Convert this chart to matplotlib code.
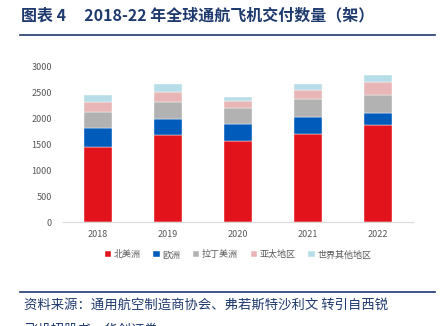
import matplotlib.pyplot as plt
import numpy as np
from matplotlib.lines import Line2D

plt.rcParams['font.family'] = ['Noto Sans CJK SC', 'DejaVu Sans']

years = ['2018', '2019', '2020', '2021', '2022']
regions = ['北美洲', '欧洲', '拉丁美洲', '亚太地区', '世界其他地区']
north_america = [1445, 1671, 1555, 1703, 1858]
europe = [366, 314, 341, 314, 242]
latin_america = [309, 327, 301, 353, 347]
asia_pacific = [192, 193, 135, 168, 245]
other = [129, 154, 71, 110, 129]
colors = ['#e3131b', '#005bbb', '#b2b2b2', '#e8b6b6', '#b7dde8']

fig = plt.figure(figsize=(4.42, 3.26), dpi=100)

# title and rules
fig.text(0.048, 0.952, '图表 4     2018-22 年全球通航飞机交付数量（架）',
         fontsize=11.5, fontweight='bold', color='#1f3a6e', va='center')
fig.add_artist(Line2D([0.045, 0.985], [0.893, 0.893], color='#1f3a6e', lw=1.2))
fig.add_artist(Line2D([0.045, 0.985], [0.104, 0.104], color='#1f3a6e', lw=1.2))
fig.text(0.055, 0.066, '资料来源：通用航空制造商协会、弗若斯特沙利文 转引自西锐',
         fontsize=9.6, color='#1f3a6e', va='center')
fig.text(0.055, -0.01, '飞机招股书，华创证券',
         fontsize=9.6, color='#1f3a6e', va='center')

ax = fig.add_axes([0.1425, 0.319, 0.792, 0.478])
x = np.arange(len(years))
bottom = np.zeros(len(years))
series = [north_america, europe, latin_america, asia_pacific, other]
for name, vals, c in zip(regions, series, colors):
    ax.bar(x, vals, width=0.41, bottom=bottom, color=c, label=name,
           edgecolor='white', linewidth=0.3)
    bottom += np.array(vals)

ax.set_xlim(-0.5, 4.5)
ax.set_ylim(0, 3000)
ax.set_yticks(range(0, 3001, 500))
ax.set_xticks(x)
ax.set_xticklabels(years)
ax.tick_params(length=0, labelsize=6.5, labelcolor='#595959')
ax.tick_params(axis='y', pad=8)
ax.tick_params(axis='x', pad=6)
for s in ['top', 'right', 'left']:
    ax.spines[s].set_visible(False)
ax.spines['bottom'].set_color('#d9d9d9')

ax.legend(loc='upper center', bbox_to_anchor=(0.5, -0.13), ncol=5, frameon=False,
          fontsize=6.5, handlelength=0.7, handleheight=0.7, handletextpad=0.3,
          columnspacing=1.4, labelcolor='#595959')

fig.savefig('out.png', dpi=100)
